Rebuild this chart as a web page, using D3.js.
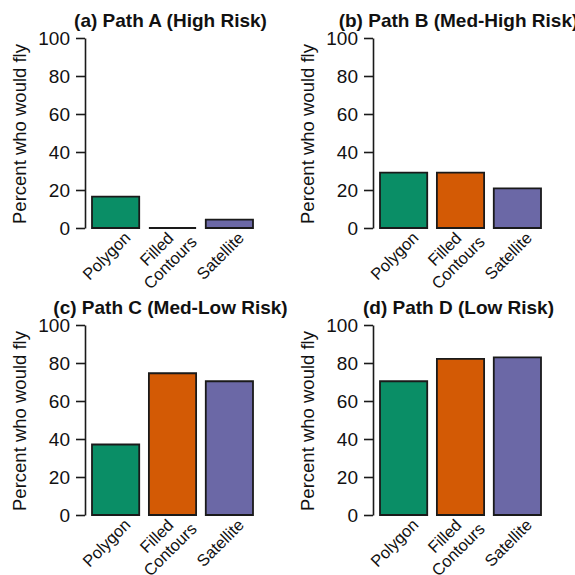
<!DOCTYPE html>
<html>
<head>
<meta charset="utf-8">
<script src="https://cdn.jsdelivr.net/npm/d3@7"></script>
<style>
  html, body { margin: 0; padding: 0; background: #fff; }
  svg { display: block; font-family: "Liberation Sans", Arial, sans-serif; }
</style>
</head>
<body>
<svg id="chart" width="575" height="575"></svg>
<script>
const categories = ["Polygon", "Filled\nContours", "Satellite"];
const panelTitles = ["(a) Path A (High Risk)", "(b) Path B (Med-High Risk)", "(c) Path C (Med-Low Risk)", "(d) Path D (Low Risk)"];
const pathA = [16.5, 0, 4.4];
const pathB = [29.1, 29.1, 20.9];
const pathC = [37.1, 74.6, 70.4];
const pathD = [70.4, 82.2, 83.0];
const yTicks = [0, 20, 40, 60, 80, 100];
const barColors = ["#0a8e66", "#d35a05", "#6b68a6"];
const yLabel = "Percent who would fly";

const panelValues = [pathA, pathB, pathC, pathD];
const svg = d3.select("#chart");

const x = d3.scaleBand().domain(categories).range([92, 253]).paddingInner(0.17).paddingOuter(0);
const y = d3.scaleLinear().domain([0, 100]).range([228, 38]);

panelValues.forEach((vals, i) => {
  const ox = (i % 2) * 288;
  const oy = Math.floor(i / 2) * 287;
  const g = svg.append("g").attr("transform", `translate(${ox},${oy})`);

  // title
  g.append("text")
    .attr("x", 170.5).attr("y", 27)
    .attr("text-anchor", "middle")
    .attr("font-weight", "bold")
    .attr("font-size", 19)
    .attr("fill", "#111")
    .text(panelTitles[i]);

  // bars (as paths so zero-height bars still show their outline)
  g.selectAll("path.bar").data(vals).join("path")
    .attr("class", "bar")
    .attr("d", (v, j) => {
      const x0 = x(categories[j]), w = x.bandwidth();
      const y0 = y(0), y1 = y(v);
      return `M${x0},${y0}L${x0 + w},${y0}L${x0 + w},${y1}L${x0},${y1}Z`;
    })
    .attr("fill", (v, j) => barColors[j])
    .attr("stroke", "#1a1a1a")
    .attr("stroke-width", 1.8);

  // y axis
  const axis = g.append("g")
    .attr("transform", "translate(85,0)")
    .call(d3.axisLeft(y).tickValues(yTicks).tickSize(9).tickSizeOuter(0).tickPadding(6));
  axis.select(".domain").attr("stroke", "#1a1a1a").attr("stroke-width", 1.6);
  axis.selectAll(".tick line").attr("stroke", "#1a1a1a").attr("stroke-width", 1.6);
  axis.selectAll(".tick text")
    .attr("font-size", 19)
    .attr("font-family", "Liberation Sans, Arial, sans-serif")
    .attr("fill", "#111");

  // y label
  g.append("text")
    .attr("transform", `translate(26,${(y(0) + y(100)) / 2 + 1}) rotate(-90)`)
    .attr("text-anchor", "middle")
    .attr("font-size", 18.5)
    .attr("fill", "#111")
    .text(yLabel);

  // x labels, rotated 45 degrees
  categories.forEach((c, j) => {
    const cx = x(c) + x.bandwidth() / 2 - 9;
    const lines = c.split("\n");
    const t = g.append("text")
      .attr("transform", `translate(${cx},256) rotate(-45)`)
      .attr("text-anchor", "middle")
      .attr("font-size", 16.5)
      .attr("fill", "#111");
    lines.forEach((ln, k) => {
      t.append("tspan")
        .attr("x", 0)
        .attr("dy", k === 0 ? (-(lines.length - 1) * 9.5 + 5.5) : 19)
        .text(ln);
    });
  });
});
</script>
</body>
</html>
